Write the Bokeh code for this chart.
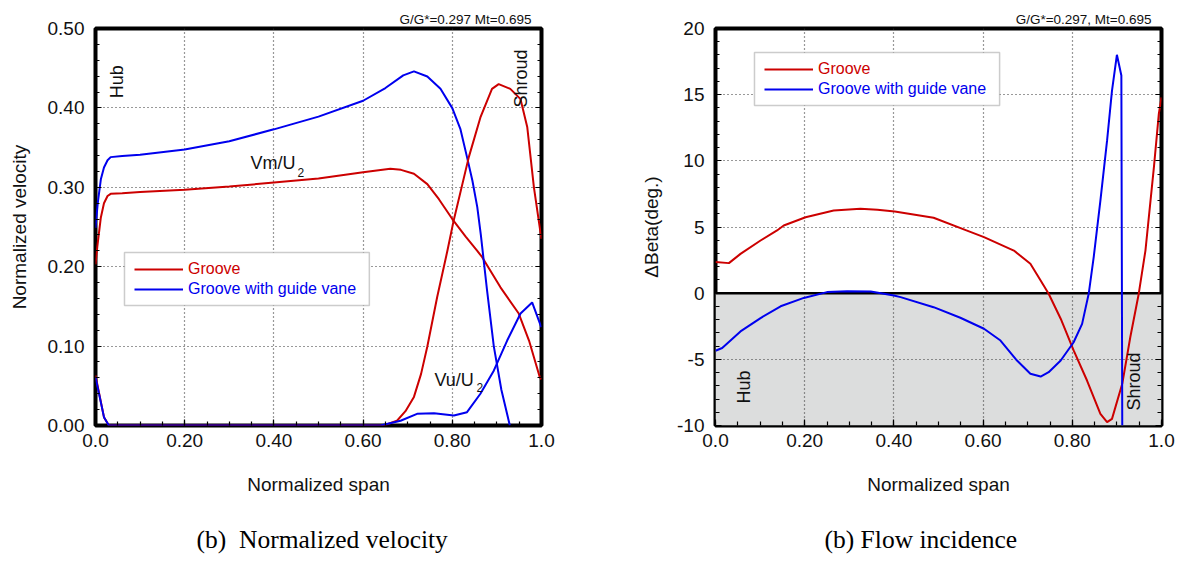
from bokeh.plotting import figure
from bokeh.layouts import row
from bokeh.models import (FixedTicker, LinearAxis, Label, Legend, LegendItem, Title,
                          BoxAnnotation, Span, CustomJSTickFormatter)
from bokeh.embed import file_html
from bokeh.resources import INLINE

# ---------------- data: normalized velocity vs. normalized span ----------------
span_vm_groove = [0.0, 0.004, 0.012, 0.019, 0.027, 0.034, 0.06, 0.10, 0.20, 0.30, 0.40, 0.50,
                  0.60, 0.661, 0.685, 0.714, 0.744, 0.77, 0.80, 0.83, 0.856, 0.867, 0.908,
                  0.949, 0.972, 0.996, 1.0]
vm_groove = [0.203, 0.225, 0.262, 0.280, 0.289, 0.2918, 0.2925, 0.294, 0.297, 0.301, 0.306,
             0.311, 0.319, 0.3233, 0.322, 0.317, 0.304, 0.285, 0.260, 0.238, 0.220, 0.212,
             0.174, 0.141, 0.107, 0.061, 0.058]

span_vm_vane = [0.0, 0.005, 0.012, 0.019, 0.027, 0.034, 0.06, 0.10, 0.20, 0.30, 0.40, 0.50,
                0.60, 0.65, 0.69, 0.714, 0.744, 0.7735, 0.80, 0.818, 0.833, 0.845, 0.856,
                0.864, 0.878, 0.893, 0.91, 0.929]
vm_vane = [0.249, 0.280, 0.310, 0.325, 0.334, 0.338, 0.3395, 0.341, 0.3476, 0.358, 0.373,
           0.389, 0.409, 0.425, 0.441, 0.446, 0.4395, 0.424, 0.3997, 0.3737, 0.338, 0.3086,
           0.275, 0.240, 0.170, 0.100, 0.045, 0.0]

span_vu_groove = [0.0, 0.019, 0.03, 0.646, 0.676, 0.695, 0.714, 0.73, 0.744, 0.766, 0.789,
                  0.803, 0.837, 0.863, 0.889, 0.904, 0.930, 0.953, 0.968, 0.983, 0.998, 1.0]
vu_groove = [0.063, 0.0105, 0.0, 0.0, 0.006, 0.018, 0.036, 0.065, 0.0995, 0.1616, 0.220,
             0.258, 0.338, 0.388, 0.424, 0.430, 0.424, 0.411, 0.376, 0.300, 0.242, 0.235]

span_vu_vane = [0.0, 0.019, 0.03, 0.639, 0.684, 0.721, 0.759, 0.8035, 0.833, 0.863, 0.893,
                0.923, 0.953, 0.979, 0.998, 1.0]
vu_vane = [0.061, 0.0105, 0.0, 0.0, 0.006, 0.0147, 0.0155, 0.0126, 0.0168, 0.040, 0.069,
           0.107, 0.141, 0.155, 0.126, 0.124]

# ---------------- data: flow incidence vs. normalized span ----------------
span_beta_groove = [0.0, 0.03, 0.056, 0.101, 0.138, 0.153, 0.202, 0.265, 0.325, 0.363, 0.402,
                    0.489, 0.564, 0.602, 0.669, 0.706, 0.729, 0.747, 0.774, 0.803, 0.833,
                    0.863, 0.878, 0.889, 0.912, 0.930, 0.949, 0.964, 0.983, 0.994, 1.0]
beta_groove = [2.35, 2.27, 2.97, 3.98, 4.74, 5.11, 5.74, 6.25, 6.37, 6.30, 6.17,
               5.70, 4.73, 4.23, 3.22, 2.22, 0.96, -0.04, -1.93, -4.33, -6.60,
               -9.12, -9.75, -9.50, -6.85, -3.33, -0.04, 3.22, 9.52, 13.55, 14.8]

span_beta_vane = [0.0, 0.015, 0.056, 0.101, 0.146, 0.198, 0.25, 0.295, 0.348, 0.40, 0.415,
                  0.489, 0.549, 0.602, 0.639, 0.676, 0.706, 0.729, 0.747, 0.774, 0.803,
                  0.822, 0.837, 0.848, 0.863, 0.878, 0.889, 0.900, 0.910, 0.912]
beta_vane = [-4.35, -4.14, -2.89, -1.88, -0.99, -0.36, 0.08, 0.15, 0.13, -0.17, -0.30,
             -1.06, -1.86, -2.69, -3.58, -5.09, -6.09, -6.30, -5.97, -5.09, -3.71,
             -2.32, 0.0, 2.72, 7.0, 11.54, 15.31, 18.01, 16.45, -10.0]

# ---------------- ticks ----------------
span_ticks = [0.0, 0.2, 0.4, 0.6, 0.8, 1.0]
span_minor = [i * 0.05 for i in range(21)]
vel_ticks = [0.0, 0.1, 0.2, 0.3, 0.4, 0.5]
vel_minor = [i * 0.02 for i in range(26)]
beta_ticks = [-10, -5, 0, 5, 10, 15, 20]
beta_minor = list(range(-10, 21))

RED = "#cc0000"
BLUE = "#0000ee"
SANS = "Liberation Sans"
SERIF = "Liberation Serif"

span_fmt = CustomJSTickFormatter(
    code="return (tick === 0 || tick === 1) ? tick.toFixed(1) : tick.toFixed(2);")
vel_fmt = CustomJSTickFormatter(code="return tick.toFixed(2);")
beta_fmt = CustomJSTickFormatter(code="return String(tick);")
blank_fmt = CustomJSTickFormatter(code="return '';")


def style_axes(p, ymajor, yminor, yfmt):
    xt = FixedTicker(ticks=span_ticks, minor_ticks=span_minor)
    yt = FixedTicker(ticks=ymajor, minor_ticks=yminor)
    p.xaxis.ticker = xt
    p.yaxis.ticker = yt
    p.xaxis.formatter = span_fmt
    p.yaxis.formatter = yfmt
    p.xgrid.ticker = xt
    p.ygrid.ticker = yt
    right = LinearAxis(ticker=yt, formatter=blank_fmt, major_label_standoff=0)
    p.add_layout(right, "right")
    for ax in p.axis:
        ax.axis_line_color = None
        ax.major_tick_in = 6
        ax.major_tick_out = 0
        ax.minor_tick_in = 4
        ax.minor_tick_out = 0
        ax.major_tick_line_color = "black"
        ax.minor_tick_line_color = "black"
        ax.major_tick_line_width = 1.2
        ax.minor_tick_line_width = 1.2
        ax.major_label_text_font = SANS
        ax.major_label_text_font_size = "19px"
        ax.major_label_text_color = "#111111"
        ax.axis_label_text_font = SANS
        ax.axis_label_text_font_style = "normal"
        ax.axis_label_text_color = "#111111"
        ax.axis_label_text_font_size = "19px"
    p.xaxis.major_label_standoff = 8
    p.yaxis[0].major_label_standoff = 11
    p.xaxis.axis_label_standoff = 24
    for g in (p.xgrid, p.ygrid):
        g.grid_line_color = "#333333"
        g.grid_line_dash = "1 3"
        g.grid_line_width = 1.2
    p.outline_line_color = "black"
    p.outline_line_width = 4
    p.background_fill_color = "white"
    p.border_fill_color = "white"


def set_titles(p, top_text, caption, caption_offset):
    p.title.text = top_text
    p.title.align = "right"
    p.title.offset = 10
    p.title.standoff = 4
    p.title.text_font = SANS
    p.title.text_font_size = "13.5px"
    p.title.text_font_style = "normal"
    p.title.text_color = "#111111"
    p.add_layout(Title(text=caption, align="left", offset=caption_offset, standoff=51,
                       text_font=SERIF, text_font_size="25.5px", text_font_style="normal",
                       text_color="black"), "below")


def add_legend(p, r_groove, r_vane, x, y_red, y_blue, box):
    frame = BoxAnnotation(left=box[0], right=box[1], top=box[2], bottom=box[3],
                          fill_color="white", fill_alpha=1.0,
                          line_color="#555555", line_width=1.5)
    p.add_layout(frame)
    for r, lab, col, y in ((r_groove, "Groove", RED, y_red),
                           (r_vane, "Groove with guide vane", BLUE, y_blue)):
        lg = Legend(items=[LegendItem(label=lab, renderers=[r])], location=(x, y),
                    label_text_font=SANS, label_text_font_size="16px",
                    label_text_color=col, glyph_width=49, glyph_height=20,
                    label_height=20, label_standoff=5, padding=0, margin=0, spacing=0,
                    border_line_color=None, background_fill_alpha=0)
        p.add_layout(lg, "center")


def text(p, x, y, s, size="18px", angle=0.0, align="left", baseline="alphabetic"):
    p.add_layout(Label(x=x, y=y, text=s, angle=angle, text_align=align,
                       text_baseline=baseline, text_font=SANS, text_font_size=size,
                       text_color="#111111"))


# ---------------- left panel: normalized velocity ----------------
p1 = figure(width=591, height=583, x_range=(0, 1), y_range=(0, 0.5),
            output_backend="svg", toolbar_location=None,
            min_border_left=95, min_border_right=50, min_border_top=28,
            min_border_bottom=158)
style_axes(p1, vel_ticks, vel_minor, vel_fmt)
p1.xaxis[0].axis_label = "Normalized span"
p1.yaxis[0].axis_label = "Normalized velocity"
p1.yaxis[0].axis_label_standoff = 15
set_titles(p1, "G/G*=0.297 Mt=0.695", "(b)\u00a0\u00a0Normalized velocity", 101)

rg = p1.line(span_vm_groove, vm_groove, line_color=RED, line_width=2)
rv = p1.line(span_vm_vane, vm_vane, line_color=BLUE, line_width=2)
p1.line(span_vu_groove, vu_groove, line_color=RED, line_width=2)
p1.line(span_vu_vane, vu_vane, line_color=BLUE, line_width=2)

add_legend(p1, rg, rv, 39, 146, 126, (0.065, 0.614, 0.2179, 0.1511))

text(p1, 0.049, 0.433, "Hub", angle=1.5708, align="center", baseline="middle")
text(p1, 0.954, 0.437, "Shroud", angle=1.5708, align="center", baseline="middle")
text(p1, 0.3475, 0.330, "Vm/U")
text(p1, 0.453, 0.319, "2", size="12px")
text(p1, 0.760, 0.0579, "Vu/U")
text(p1, 0.854, 0.0479, "2", size="12px")

# ---------------- right panel: flow incidence ----------------
p2 = figure(width=591, height=583, x_range=(0, 1), y_range=(-10, 20),
            output_backend="svg", toolbar_location=None,
            min_border_left=124, min_border_right=21, min_border_top=28,
            min_border_bottom=158)
style_axes(p2, beta_ticks, beta_minor, beta_fmt)
p2.xaxis[0].axis_label = "Normalized span"
p2.yaxis[0].axis_label = "\u0394Beta(deg.)"
p2.yaxis[0].axis_label_standoff = 12
set_titles(p2, "G/G*=0.297, Mt=0.695", "(b) Flow incidence", 109)

# negative-incidence band and zero reference line
p2.add_layout(BoxAnnotation(top=0, fill_color="#dcdddd", fill_alpha=1.0,
                            line_color=None, level="image"))
p2.add_layout(Span(location=0, dimension="width", line_color="black",
                   line_width=2.5, level="underlay"))

rg2 = p2.line(span_beta_groove, beta_groove, line_color=RED, line_width=2)
rv2 = p2.line(span_beta_vane, beta_vane, line_color=BLUE, line_width=2)

add_legend(p2, rg2, rv2, 49, 346, 326, (0.0874, 0.637, 18.19, 14.18))

text(p2, 0.064, -7.09, "Hub", angle=1.5708, align="center", baseline="middle")
text(p2, 0.939, -6.68, "Shroud", angle=1.5708, align="center", baseline="middle")

layout = row(p1, p2)
open("out.html", "w").write(file_html(layout, INLINE))
